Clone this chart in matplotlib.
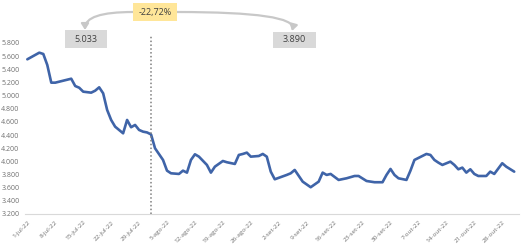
import matplotlib
matplotlib.use("Agg")
import matplotlib.pyplot as plt
from matplotlib.patches import Rectangle, FancyArrowPatch
import pandas as pd

# ---- data ----
dates = ["2022-07-01", "2022-07-04", "2022-07-05", "2022-07-06", "2022-07-07", "2022-07-08",
         "2022-07-10", "2022-07-12", "2022-07-13", "2022-07-14", "2022-07-15", "2022-07-17",
         "2022-07-18", "2022-07-19", "2022-07-20", "2022-07-21", "2022-07-22", "2022-07-23",
         "2022-07-25", "2022-07-26", "2022-07-27", "2022-07-28", "2022-07-29", "2022-07-30",
         "2022-07-31", "2022-08-01", "2022-08-02", "2022-08-04", "2022-08-05", "2022-08-06",
         "2022-08-08", "2022-08-09", "2022-08-10", "2022-08-11", "2022-08-12", "2022-08-13",
         "2022-08-15", "2022-08-16", "2022-08-17", "2022-08-19", "2022-08-20", "2022-08-22",
         "2022-08-23", "2022-08-24", "2022-08-25", "2022-08-26", "2022-08-28", "2022-08-29",
         "2022-08-30", "2022-08-31", "2022-09-01", "2022-09-04", "2022-09-05", "2022-09-06",
         "2022-09-08", "2022-09-10", "2022-09-12", "2022-09-13", "2022-09-14", "2022-09-15",
         "2022-09-17", "2022-09-19", "2022-09-21", "2022-09-22", "2022-09-24", "2022-09-26",
         "2022-09-28", "2022-09-29", "2022-09-30", "2022-10-01", "2022-10-02", "2022-10-04",
         "2022-10-05", "2022-10-06", "2022-10-09", "2022-10-10", "2022-10-11", "2022-10-12",
         "2022-10-13", "2022-10-15", "2022-10-16", "2022-10-17", "2022-10-18", "2022-10-19",
         "2022-10-20", "2022-10-21", "2022-10-22", "2022-10-24", "2022-10-25", "2022-10-26",
         "2022-10-28", "2022-10-29", "2022-10-31"]
values = [5552, 5653, 5633, 5466, 5197, 5197,
          5227, 5257, 5146, 5120, 5060, 5045,
          5075, 5126, 5035, 4782, 4630, 4528,
          4427, 4630, 4519, 4554, 4478, 4452,
          4440, 4410, 4199, 4022, 3859, 3819,
          3809, 3859, 3829, 4022, 4108, 4072,
          3946, 3829, 3920, 4006, 3987, 3961,
          4098, 4113, 4133, 4072, 4082, 4113,
          4072, 3844, 3728, 3794, 3819, 3870,
          3692, 3607, 3692, 3829, 3794, 3809,
          3718, 3743, 3778, 3778, 3702, 3683,
          3683, 3794, 3885, 3794, 3743, 3718,
          3859, 4022, 4113, 4098, 4022, 3981,
          3946, 3996, 3946, 3880, 3905, 3829,
          3880, 3809, 3778, 3778, 3844, 3809,
          3972, 3920, 3844]
tick_dates = ["2022-07-01", "2022-07-08", "2022-07-15", "2022-07-22", "2022-07-29",
              "2022-08-05", "2022-08-12", "2022-08-19", "2022-08-26", "2022-09-02",
              "2022-09-09", "2022-09-16", "2022-09-23", "2022-09-30", "2022-10-07",
              "2022-10-14", "2022-10-21", "2022-10-28"]
tick_labels = ["1-jul-22", "8-jul-22", "15-jul-22", "22-jul-22", "29-jul-22",
               "5-ago-22", "12-ago-22", "19-ago-22", "26-ago-22", "2-set-22",
               "9-set-22", "16-set-22", "23-set-22", "30-set-22", "7-out-22",
               "14-out-22", "21-out-22", "28-out-22"]
y_ticks = [3200, 3400, 3600, 3800, 4000, 4200, 4400, 4600, 4800, 5000, 5200, 5400, 5600, 5800]
marker_date = "2022-08-01"
start_label = "5.033"
end_label = "3.890"
change_label = "-22,72%"

# ---- figure ----
W, H = 522, 247
fig = plt.figure(figsize=(W / 100, H / 100), dpi=100)
plt.rcParams['font.family'] = ['Open Sans', 'DejaVu Sans']

def fx(px):
    return px / W

def fy(py):
    return 1 - py / H

ax = fig.add_axes([fx(25), fy(214), fx(519) - fx(25), fy(43) - fy(214)])

x = pd.to_datetime(dates)
ax.plot(x, values, color="#3F64A8", lw=1.9, solid_joinstyle="round", solid_capstyle="round")

ax.set_ylim(3200, 5800)
ax.set_yticks(y_ticks)
ax.set_yticklabels([f"{v:,}".replace(",", ".") for v in y_ticks], fontsize=5.0, color="#707070")

t0 = pd.Timestamp("2022-07-01")
ax.set_xlim(t0 - pd.Timedelta(hours=14), t0 + pd.Timedelta(days=123.2))
ax.set_xticks(pd.to_datetime(tick_dates))
ax.set_xticklabels(tick_labels, rotation=45, ha="right", va="top", rotation_mode="anchor",
                   fontsize=4.6, color="#707070")
ax.tick_params(axis="y", length=0, pad=4)
ax.tick_params(axis="x", length=0, pad=4)

for s in ["top", "right", "left"]:
    ax.spines[s].set_visible(False)
ax.spines["bottom"].set_color("#D9D9D9")
ax.spines["bottom"].set_linewidth(0.8)

# vertical dotted marker
ax.axvline(pd.Timestamp(marker_date), ymin=0, ymax=1.047, color="#7F7F7F", ls=(0, (1, 1.5)),
           lw=1.1, clip_on=False)

# annotation boxes
def box(x0, y0, x1, y1, color, text, tcolor):
    fig.add_artist(Rectangle((fx(x0), fy(y1)), fx(x1) - fx(x0), fy(y0) - fy(y1),
                             transform=fig.transFigure, facecolor=color, edgecolor="none"))
    fig.text(fx((x0 + x1) / 2), fy((y0 + y1) / 2), text, ha="center", va="center",
             fontsize=6.5, color=tcolor)

# arrows (in figure pixels)
def arrow(p0, p1, style):
    a = FancyArrowPatch((p0[0], H - p0[1]), (p1[0], H - p1[1]), transform=None,
                        connectionstyle=style,
                        arrowstyle="-|>,head_length=0.35,head_width=0.22", mutation_scale=10,
                        color="#C8C8C8", lw=1.6, shrinkA=0, shrinkB=0)
    fig.add_artist(a)

arrow((133, 12), (85, 30), "angle3,angleA=180,angleB=90")
arrow((177, 12), (292, 31), "angle3,angleA=0,angleB=75")

box(65, 30, 107, 48, "#D9D9D9", start_label, "#404040")
box(273, 32, 316, 48, "#D9D9D9", end_label, "#404040")
box(133, 3, 177, 21, "#FFE699", change_label, "#404040")

fig.savefig("out.png", dpi=100)
